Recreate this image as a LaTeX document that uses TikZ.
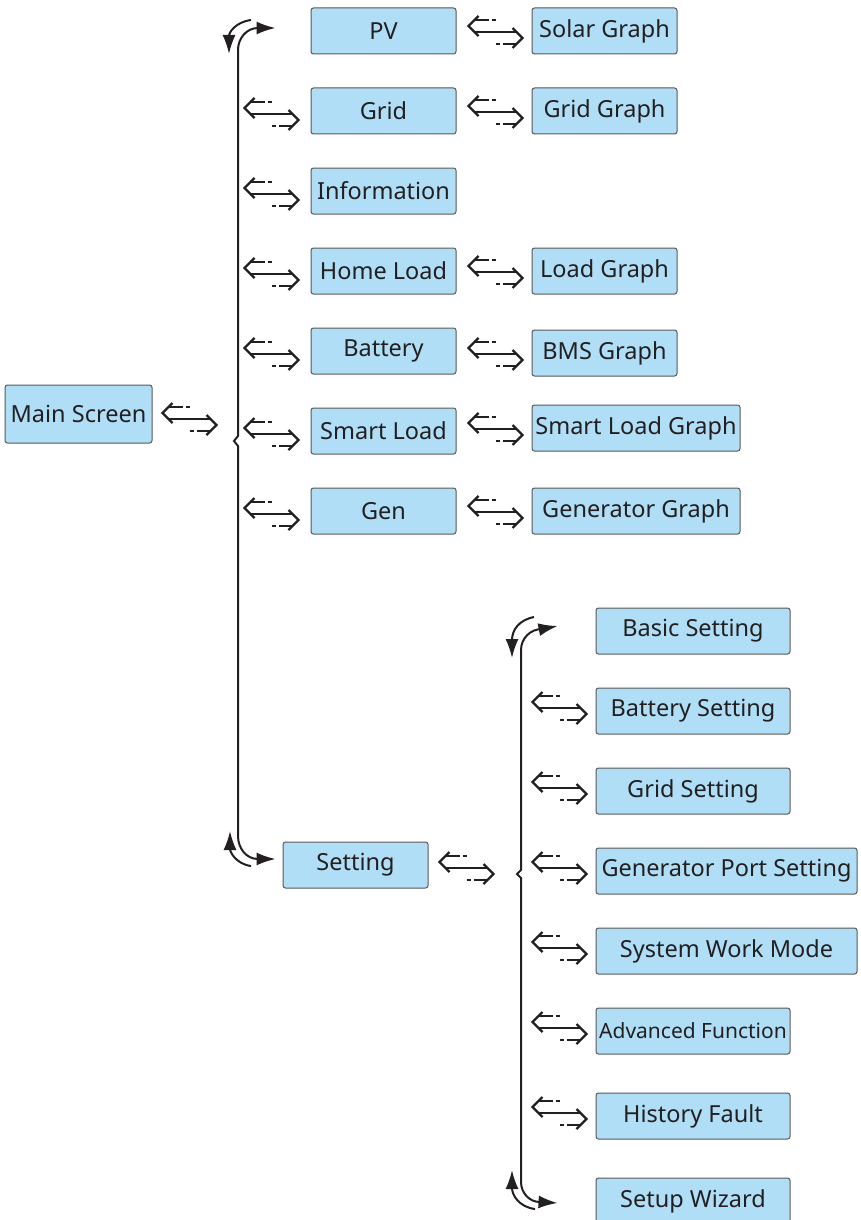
\documentclass[tikz,border=0pt]{standalone}
\usepackage{fontspec}
\setmainfont{Noto Sans}
\usetikzlibrary{arrows.meta}
\definecolor{boxblue}{RGB}{176,222,246}
\definecolor{inkgray}{RGB}{35,31,32}

\begin{document}
\begin{tikzpicture}[x=1pt, y=-1pt,
  menu/.style={draw=inkgray!75, line width=1pt, fill=boxblue, rounded corners=2.5pt,
    minimum width=145pt, minimum height=46pt, inner sep=0pt,
    font=\fontsize{23.5}{27}\selectfont, text=inkgray},
  wide/.style={menu, minimum width=208pt},
  setbox/.style={menu, minimum width=194pt},
  setwide/.style={menu, minimum width=261pt},
  tip/.tip={Latex[length=19pt,width=13pt]},
  brace/.style={line width=2pt, inkgray, line cap=butt},
  dblarrow/.pic={
    \begin{scope}[line width=2.2pt, inkgray, line join=miter]
      \draw (-17,-16) -- (-27,-6) -- (-17,4);
      \draw (-21,-12) -- (-7,-12) (-4,-12) -- (0,-12);
      \draw (-21,0) -- (21,0);
      \draw (17,-4) -- (27,6) -- (17,16);
      \draw (0,12) -- (4,12) (7,12) -- (21,12);
    \end{scope}
  }]
  \useasboundingbox (0,0) rectangle (861,1220);

  % main screen and first level
  \node[menu, minimum width=147pt, minimum height=58pt] (main) at (78.5,414) {Main Screen};
  \node[menu] (pv) at (383.5,31) {PV};
  \node[menu] (grid) at (383.5,111) {Grid};
  \node[menu] (info) at (383.5,191) {Information};
  \node[menu] (home) at (383.5,271) {Home Load};
  \node[menu] (battery) at (383.5,351) {Battery};
  \node[menu] (smart) at (383.5,431) {Smart Load};
  \node[menu] (gen) at (383.5,511) {Gen};
  \node[menu] (setting) at (355.5,865) {Setting};

  % graphs
  \node[menu] (solar) at (604.5,31) {Solar Graph};
  \node[menu] (gridgraph) at (604.5,111) {Grid Graph};
  \node[menu] (loadgraph) at (604.5,271) {Load Graph};
  \node[menu] (bms) at (604.5,353) {BMS Graph};
  \node[wide] (smartgraph) at (636,428) {Smart Load Graph};
  \node[wide] (gengraph) at (636,511) {Generator Graph};

  % setting menu
  \node[setbox] (basic) at (693,631) {Basic Setting};
  \node[setbox] (batset) at (693,711) {Battery Setting};
  \node[setbox] (gridset) at (693,791) {Grid Setting};
  \node[setwide] (genport) at (726.5,871) {Generator Port Setting};
  \node[setwide] (workmode) at (726.5,951) {System Work Mode};
  \node[setbox, font=\fontsize{21}{25}\selectfont] (advanced) at (693,1031) {Advanced Function};
  \node[setbox] (fault) at (693,1116) {History Fault};
  \node[setbox] (wizard) at (693,1201) {Setup Wizard};

  % swap glyphs
  \path (main.east) ++(37,5) pic {dblarrow};
  \foreach \n in {grid,info,home,battery,smart,gen}
    \path (\n.west) ++(-39,3) pic {dblarrow};
  \foreach \n in {solar,gridgraph,loadgraph,bms,smartgraph,gengraph}
    \path (\n.west) ++(-36,1) pic {dblarrow};
  \path (setting.east) ++(38,3) pic {dblarrow};
  \foreach \n in {batset,gridset,genport,workmode,advanced,fault}
    \path (\n.west) ++(-36,-3) pic {dblarrow};

  % first brace
  \draw[brace, tip-tip]
    ([xshift=-35pt]pv.west |- 0,28) -- (258,28) to[out=180,in=90] (238,50)
    -- (238,436) -- (234,441) -- (238,446) -- (238,836)
    to[out=-90,in=180] (258,859) -- ([xshift=-7pt]setting.west |- 0,859);
  \draw[brace, -tip] (251,20) .. controls (236,22) and (229,32) .. (229,54);
  \draw[brace, tip-] (230,831) .. controls (230,852) and (236,864) .. (251,866);

  % second brace
  \draw[brace, tip-tip]
    ([xshift=-38pt]basic.west |- 0,626) -- (542,629) to[out=180,in=90] (521,650)
    -- (521,870) -- (517,874) -- (521,878) -- (521,1182)
    to[out=-90,in=180] (540,1202) -- ([xshift=-38pt]wizard.west |- 0,1203);
  \draw[brace, -tip] (534,617) .. controls (519,620) and (512,630) .. (512,658);
  \draw[brace, tip-] (512,1170) .. controls (512,1195) and (519,1207) .. (535,1209);
\end{tikzpicture}
\end{document}
